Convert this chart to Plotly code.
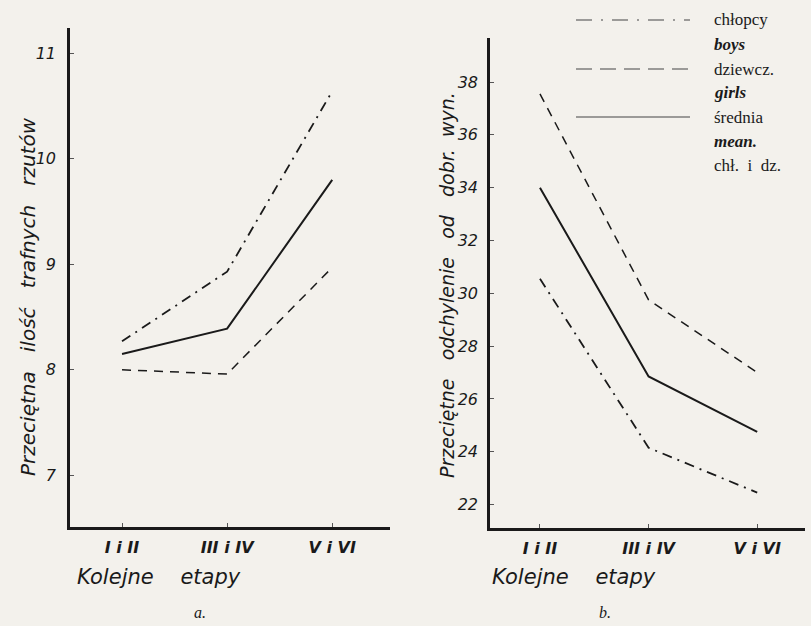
import plotly.graph_objects as go

W, H = 811, 626

stages = ["I i II", "III i IV", "V i VI"]
stage_pos = [0, 1, 2]

# Panel a: average number of accurate throws
a_boys = [8.27, 8.93, 10.64]
a_girls = [8.00, 7.96, 8.97]
a_mean = [8.15, 8.39, 9.80]
a_ticks = [7, 8, 9, 10, 11]

# Panel b: average deviation from good result
b_boys = [30.55, 24.15, 22.45]
b_girls = [37.55, 29.75, 27.00]
b_mean = [34.00, 26.85, 24.75]
b_ticks = [22, 24, 26, 28, 30, 32, 34, 36, 38]

BG = "#f3f1ec"
INK = "#1a1a1a"
HAND = "DejaVu Sans"
SERIF = "Liberation Serif"

def px(x):
    return x / W

def py(y):
    return 1 - y / H

fig = go.Figure()

styles = {
    "boys": dict(dash="10px,6px,2px,6px", width=1.8),
    "girls": dict(dash="9px,7px", width=1.5),
    "mean": dict(dash="solid", width=2.0),
}

for vals, key in [(a_boys, "boys"), (a_girls, "girls"), (a_mean, "mean")]:
    fig.add_trace(go.Scatter(x=stage_pos, y=vals, mode="lines", xaxis="x", yaxis="y",
                             line=dict(color=INK, **styles[key]), showlegend=False,
                             hoverinfo="skip"))
for vals, key in [(b_boys, "boys"), (b_girls, "girls"), (b_mean, "mean")]:
    fig.add_trace(go.Scatter(x=stage_pos, y=vals, mode="lines", xaxis="x2", yaxis="y2",
                             line=dict(color=INK, **styles[key]), showlegend=False,
                             hoverinfo="skip"))

axis_common = dict(showgrid=False, zeroline=False, showline=True, linecolor=INK,
                   linewidth=2.5, mirror=False, ticks="inside", ticklen=4,
                   tickcolor="#555", tickwidth=1)

xfont = dict(family=HAND, size=16, color=INK, style="italic", weight="bold")
yfont = dict(family=HAND, size=16, color=INK, style="italic")

fig.update_layout(
    width=W, height=H,
    margin=dict(l=0, r=0, t=0, b=0),
    paper_bgcolor=BG, plot_bgcolor=BG,
    showlegend=False,
    xaxis=dict(domain=[px(70), px(390)], range=[-0.495, 2.55], anchor="y",
               tickvals=stage_pos, ticktext=stages, tickfont=xfont,
               ticklabelstandoff=4, **axis_common),
    yaxis=dict(domain=[py(527), py(28)], range=[6.51, 11.24], anchor="x",
               tickvals=a_ticks, tickfont=yfont,
               ticklabelstandoff=8, **axis_common),
    xaxis2=dict(domain=[px(490), px(805)], range=[-0.46, 2.44], anchor="y2",
                tickvals=stage_pos, ticktext=stages, tickfont=xfont,
                ticklabelstandoff=4, **axis_common),
    yaxis2=dict(domain=[py(528), py(38)], range=[21.11, 39.67], anchor="x2",
                tickvals=b_ticks, tickfont=yfont,
                ticklabelstandoff=6, **axis_common),
)

ann = []
def text(x, y, s, size=16, family=HAND, style="italic", angle=0, xanchor="center"):
    ann.append(dict(x=px(x), y=py(y), xref="paper", yref="paper", text=s,
                    showarrow=False, textangle=angle, xanchor=xanchor, yanchor="middle",
                    font=dict(family=family, size=size, color=INK, style=style)))

text(28, 297, "Przeciętna   ilość   trafnych   rzutów", size=20, angle=-90)
text(447, 285, "Przeciętne   odchylenie   od   dobr.  wyn.", size=19, angle=-90)
text(75, 577, "Kolejne    etapy", size=21, xanchor="left")
text(490, 577, "Kolejne    etapy", size=21, xanchor="left")
text(200, 612, "a.", size=16, family=SERIF)
text(605, 612, "b.", size=16, family=SERIF)

# legend
shapes = []
for y, d in [(20, "16px,9px,2px,9px"), (69, "16px,8px"), (117, "solid")]:
    shapes.append(dict(type="line", xref="paper", yref="paper",
                       x0=px(576), x1=px(690), y0=py(y), y1=py(y),
                       line=dict(color="#444", width=1.2, dash=d)))
leg_text = [(20, "chłopcy", "normal"), (45, "<b>boys</b>", "italic"),
            (69, "dziewcz.", "normal"), (93, "<b>girls</b>", "italic"),
            (117, "średnia", "normal"), (142, "<b>mean.</b>", "italic"),
            (165, "chł.  i  dz.", "normal")]
for y, s, stl in leg_text:
    text(712, y, s, size=17, family=SERIF, style=stl, xanchor="left")

fig.update_layout(annotations=ann, shapes=shapes)
fig.write_html("out.html")
